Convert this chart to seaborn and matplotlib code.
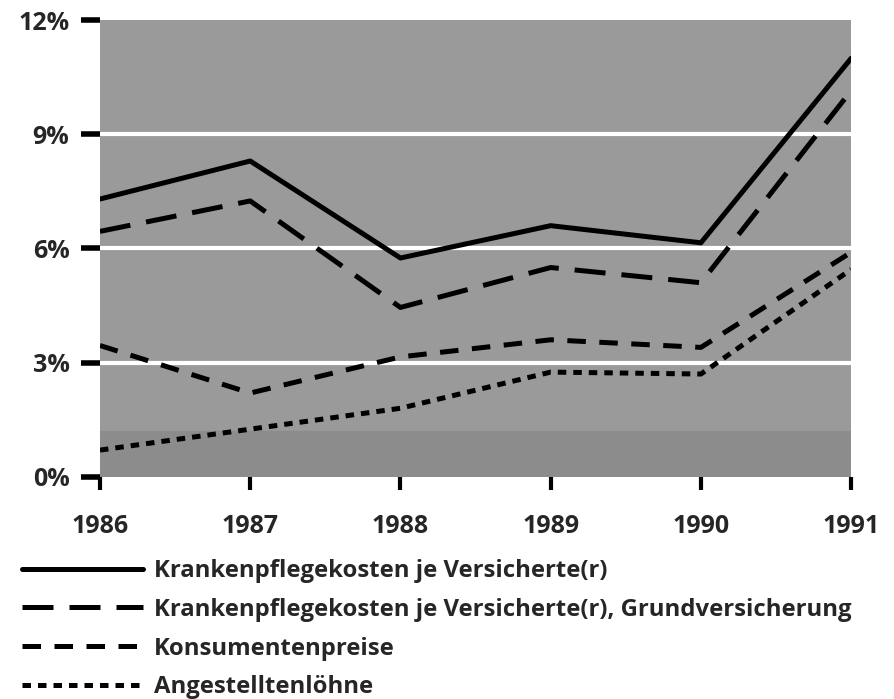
import matplotlib
matplotlib.use("Agg")
import matplotlib.pyplot as plt
import seaborn as sns
import pandas as pd
from matplotlib.lines import Line2D

years = [1986, 1987, 1988, 1989, 1990, 1991]
kosten = [7.3, 8.3, 5.75, 6.6, 6.15, 11.0]
kosten_grund = [6.45, 7.25, 4.45, 5.5, 5.1, 10.15]
konsumentenpreise = [3.45, 2.2, 3.15, 3.6, 3.4, 5.9]
loehne = [0.7, 1.25, 1.8, 2.75, 2.7, 5.45]

names = [
    "Krankenpflegekosten je Versicherte(r)",
    "Krankenpflegekosten je Versicherte(r), Grundversicherung",
    "Konsumentenpreise",
    "Angestelltenlöhne",
]
series = [kosten, kosten_grund, konsumentenpreise, loehne]
yticks = [0, 3, 6, 9, 12]
ytick_labels = ["0%", "3%", "6%", "9%", "12%"]

rows = []
for n, vals in zip(names, series):
    for y, v in zip(years, vals):
        rows.append({"Jahr": y, "Wert": v, "Serie": n})
df = pd.DataFrame(rows)

sns.set_theme(style="white")
plt.rcParams["font.family"] = ["Open Sans", "DejaVu Sans"]
plt.rcParams["font.weight"] = "bold"

fig = plt.figure(figsize=(8.95, 6.99), dpi=100)
ax = fig.add_axes([0.1117, 0.318, 0.8393, 0.653])
ax.set_facecolor("#9a9a9a")
ax.axhspan(0, 1.2, color="#8c8c8c", zorder=0)

LW = 3.6
dash_map = {
    names[0]: "",
    names[1]: (6.2, 3.2),
    names[2]: (3.7, 2.7),
    names[3]: (1.7, 1.4),
}
sns.lineplot(data=df, x="Jahr", y="Wert", style="Serie", dashes=dash_map,
             color="black", linewidth=LW, ax=ax, legend=False, zorder=3)

for y in [3, 6, 9]:
    ax.axhline(y, color="white", linewidth=3, zorder=1)

ax.set_xlim(1986, 1991)
ax.set_ylim(0, 12)
ax.set_yticks(yticks)
ax.set_yticklabels(ytick_labels, fontsize=18, fontweight="bold")
ax.set_xticks(years)
ax.set_xticklabels([str(y) for y in years], fontsize=18, fontweight="bold")
ax.tick_params(axis="y", which="major", length=14, width=4, color="black",
               left=True, pad=8, direction="out")
ax.tick_params(axis="x", which="major", length=9, width=3, color="black",
               bottom=True, pad=18, direction="out")
for s in ax.spines.values():
    s.set_visible(False)
ax.set_xlabel("")
ax.set_ylabel("")
ax.grid(False)

handles = []
for n in names:
    d = dash_map[n]
    if d == "":
        h = Line2D([0], [0], color="black", linewidth=LW, linestyle="-")
    else:
        h = Line2D([0], [0], color="black", linewidth=LW, linestyle=(0, d))
    handles.append(h)

leg = fig.legend(handles, names, loc="upper left", bbox_to_anchor=(0.0, 0.231),
                 frameon=False, handlelength=5.1, handletextpad=0.45,
                 labelspacing=0.62, prop={"weight": "bold", "size": 17.2})

fig.savefig("out.png", dpi=100)
